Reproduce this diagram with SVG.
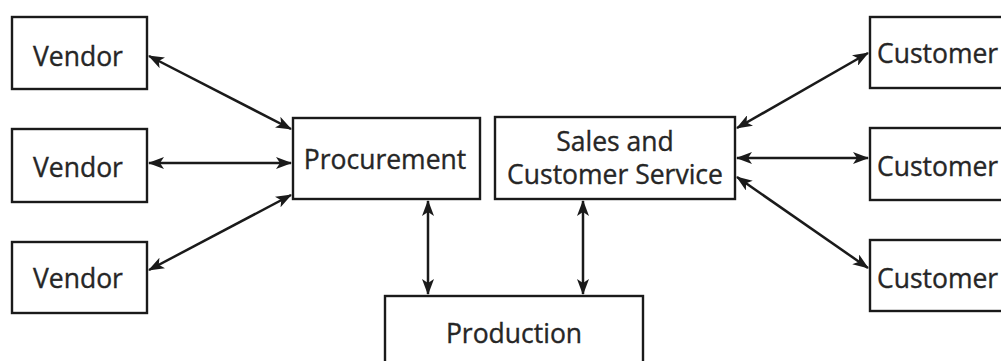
<svg xmlns="http://www.w3.org/2000/svg" width="1001" height="361" viewBox="0 0 1001 361">
<style>
.box{fill:#fff;stroke:#1a1a1a;stroke-width:2.4}
.lbl{font-family:"Open Sans","Noto Sans",sans-serif;font-size:26.5px;fill:#262626;stroke:#262626;stroke-width:0.35}
.c{stroke:#1a1a1a;stroke-width:2.5;fill:none;marker-start:url(#ah);marker-end:url(#ah)}
</style>
<defs>
<marker id="ah" viewBox="0 0 16 12" refX="15" refY="6" markerWidth="16" markerHeight="12" markerUnits="userSpaceOnUse" orient="auto-start-reverse">
<path d="M0,0 L16,6 L0,12 L4,6 Z" fill="#1a1a1a"/>
</marker>
</defs>
<rect width="1001" height="361" fill="#fff"/>
<g id="vendor1"><rect class="box" x="12" y="17" width="135" height="72"/><text class="lbl" x="78" y="66" text-anchor="middle">Vendor</text></g>
<g id="vendor2"><rect class="box" x="12" y="129" width="135" height="73"/><text class="lbl" x="78" y="177" text-anchor="middle">Vendor</text></g>
<g id="vendor3"><rect class="box" x="12" y="242" width="135" height="71"/><text class="lbl" x="78" y="288" text-anchor="middle">Vendor</text></g>
<g id="procurement"><rect class="box" x="293" y="118" width="187" height="81"/><text class="lbl" x="385" y="169" text-anchor="middle">Procurement</text></g>
<g id="sales"><rect class="box" x="495" y="117" width="240" height="82"/><text class="lbl" x="615" y="151" text-anchor="middle">Sales and</text><text class="lbl" x="615" y="184" text-anchor="middle">Customer Service</text></g>
<g id="production"><rect class="box" x="385" y="296" width="258" height="80"/><text class="lbl" x="514" y="343" text-anchor="middle">Production</text></g>
<g id="customer1"><rect class="box" x="870" y="17" width="140" height="71"/><text class="lbl" x="877" y="63">Customer</text></g>
<g id="customer2"><rect class="box" x="870" y="128" width="140" height="72"/><text class="lbl" x="877" y="176">Customer</text></g>
<g id="customer3"><rect class="box" x="870" y="240" width="140" height="71"/><text class="lbl" x="877" y="288">Customer</text></g>
<g id="connectors">
<line class="c" x1="149" y1="56" x2="291" y2="129"/>
<line class="c" x1="149" y1="163" x2="291" y2="163"/>
<line class="c" x1="149" y1="270" x2="291" y2="195"/>
<line class="c" x1="428" y1="201" x2="428" y2="294"/>
<line class="c" x1="583" y1="201" x2="583" y2="294"/>
<line class="c" x1="737" y1="128" x2="868" y2="53"/>
<line class="c" x1="737" y1="158" x2="868" y2="158"/>
<line class="c" x1="737" y1="177" x2="868" y2="268"/>
</g>
</svg>
